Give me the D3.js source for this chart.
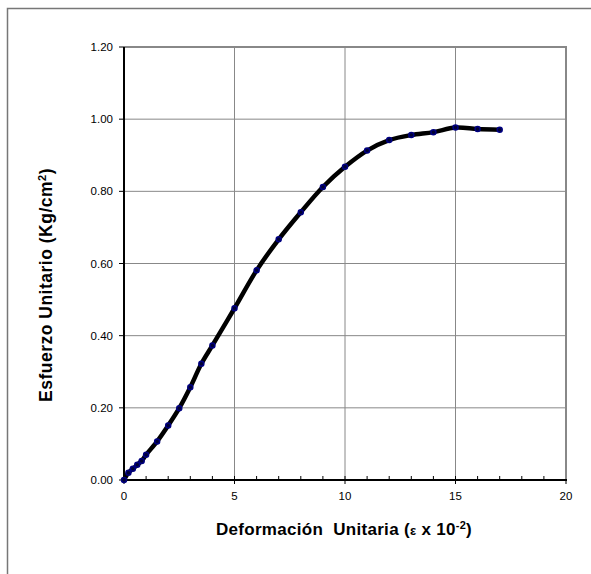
<!DOCTYPE html>
<html>
<head>
<meta charset="utf-8">
<script src="https://cdn.jsdelivr.net/npm/d3@7"></script>
<style>
  body { margin: 0; background: #fff; }
  text { font-family: "Liberation Sans", Arial, sans-serif; }
</style>
</head>
<body>
<svg id="chart"></svg>
<script>
// strain (x 10^-2) and unit stress (Kg/cm2)
var deformacion = [0, 0.2, 0.4, 0.6, 0.8, 1, 1.5, 2, 2.5, 3, 3.5, 4, 5, 6, 7, 8, 9, 10, 11, 12, 13, 14, 15, 16, 17];
var esfuerzo = [0, 0.020, 0.031, 0.042, 0.053, 0.070, 0.107, 0.151, 0.199, 0.257, 0.322, 0.373, 0.476, 0.581, 0.667, 0.742, 0.812, 0.868, 0.913, 0.942, 0.956, 0.964, 0.977, 0.973, 0.971];
var xTicks = [0, 5, 10, 15, 20];
var yTicks = [0, 0.2, 0.4, 0.6, 0.8, 1.0, 1.2];

var W = 591, H = 574;
var svg = d3.select('#chart').attr('width', W).attr('height', H);

// outer chart frame (runs off the bottom/right edge)
svg.append('rect')
  .attr('x', 7.5).attr('y', 8.5)
  .attr('width', W + 20).attr('height', H + 20)
  .attr('fill', 'none').attr('stroke', '#777').attr('stroke-width', 1.5);

var pLeft = 124, pRight = 566, pTop = 47, pBottom = 480;
var x = d3.scaleLinear().domain([0, 20]).range([pLeft, pRight]);
var y = d3.scaleLinear().domain([0, 1.2]).range([pBottom, pTop]);

// gridlines
svg.append('g').selectAll('line')
  .data(yTicks.slice(1, -1)).enter().append('line')
  .attr('x1', pLeft).attr('x2', pRight)
  .attr('y1', function(d) { return y(d); }).attr('y2', function(d) { return y(d); })
  .attr('stroke', '#888').attr('stroke-width', 1);
svg.append('g').selectAll('line')
  .data(xTicks.slice(1, -1)).enter().append('line')
  .attr('x1', function(d) { return x(d); }).attr('x2', function(d) { return x(d); })
  .attr('y1', pTop).attr('y2', pBottom)
  .attr('stroke', '#888').attr('stroke-width', 1);

// top and right plot border
svg.append('path')
  .attr('d', 'M' + pLeft + ',' + pTop + 'H' + pRight + 'V' + pBottom)
  .attr('fill', 'none').attr('stroke', '#888').attr('stroke-width', 2);

// x axis
var xAxis = svg.append('g').attr('transform', 'translate(0,' + pBottom + ')');
xAxis.append('line').attr('x1', pLeft).attr('x2', pRight + 1)
  .attr('stroke', '#000').attr('stroke-width', 2);
xAxis.append('g').selectAll('line')
  .data(d3.range(1, 20)).enter().append('line')
  .attr('x1', function(d) { return x(d); }).attr('x2', function(d) { return x(d); })
  .attr('y1', 0).attr('y2', -4)
  .attr('stroke', '#000').attr('stroke-width', 1);
xAxis.append('g').selectAll('line')
  .data(xTicks).enter().append('line')
  .attr('x1', function(d) { return x(d); }).attr('x2', function(d) { return x(d); })
  .attr('y1', 0).attr('y2', 4)
  .attr('stroke', '#000').attr('stroke-width', 1);
xAxis.append('g').selectAll('text')
  .data(xTicks).enter().append('text')
  .attr('x', function(d) { return x(d); }).attr('y', 20)
  .attr('text-anchor', 'middle').attr('font-size', 11.5)
  .text(function(d) { return d; });

// y axis
var yAxis = svg.append('g');
yAxis.append('line').attr('x1', pLeft).attr('x2', pLeft)
  .attr('y1', pTop).attr('y2', pBottom + 1)
  .attr('stroke', '#000').attr('stroke-width', 2);
yAxis.append('g').selectAll('line')
  .data(yTicks).enter().append('line')
  .attr('x1', pLeft - 5).attr('x2', pLeft)
  .attr('y1', function(d) { return y(d); }).attr('y2', function(d) { return y(d); })
  .attr('stroke', '#000').attr('stroke-width', 1);
yAxis.append('g').selectAll('text')
  .data(yTicks).enter().append('text')
  .attr('x', pLeft - 11).attr('y', function(d) { return y(d) + 4; })
  .attr('text-anchor', 'end').attr('font-size', 11.5)
  .text(function(d) { return d3.format('.2f')(d); });

// axis titles
var xt = svg.append('text')
  .attr('x', 344).attr('y', 535)
  .attr('text-anchor', 'middle').attr('font-size', 17).attr('font-weight', 'bold')
  .attr('letter-spacing', 0.3)
  .attr('xml:space', 'preserve');
xt.append('tspan').text('Deformación  Unitaria (');
xt.append('tspan').attr('font-size', 13).text('ε');
xt.append('tspan').text(' x 10');
xt.append('tspan').attr('font-size', 11).attr('dy', -6).text('-2');
xt.append('tspan').attr('dy', 6).text(')');

var yt = svg.append('text')
  .attr('transform', 'translate(52,285) rotate(-90)')
  .attr('text-anchor', 'middle').attr('font-size', 17.5).attr('font-weight', 'bold')
  .attr('letter-spacing', 0.5);
yt.append('tspan').text('Esfuerzo Unitario (Kg/cm');
yt.append('tspan').attr('font-size', 11).attr('dy', -6).text('2');
yt.append('tspan').attr('dy', 6).text(')');

// data
var pts = deformacion.map(function(d, i) { return [d, esfuerzo[i]]; });
var line = d3.line()
  .x(function(d) { return x(d[0]); })
  .y(function(d) { return y(d[1]); })
  .curve(d3.curveCatmullRom.alpha(0.5));

svg.append('path')
  .datum(pts)
  .attr('d', line)
  .attr('fill', 'none').attr('stroke', '#000').attr('stroke-width', 4.5)
  .attr('stroke-linejoin', 'round').attr('stroke-linecap', 'round');

svg.append('g').selectAll('circle')
  .data(pts).enter().append('circle')
  .attr('cx', function(d) { return x(d[0]); })
  .attr('cy', function(d) { return y(d[1]); })
  .attr('r', 2.5)
  .attr('fill', '#000033').attr('stroke', '#000080').attr('stroke-width', 1.5);
</script>
</body>
</html>
